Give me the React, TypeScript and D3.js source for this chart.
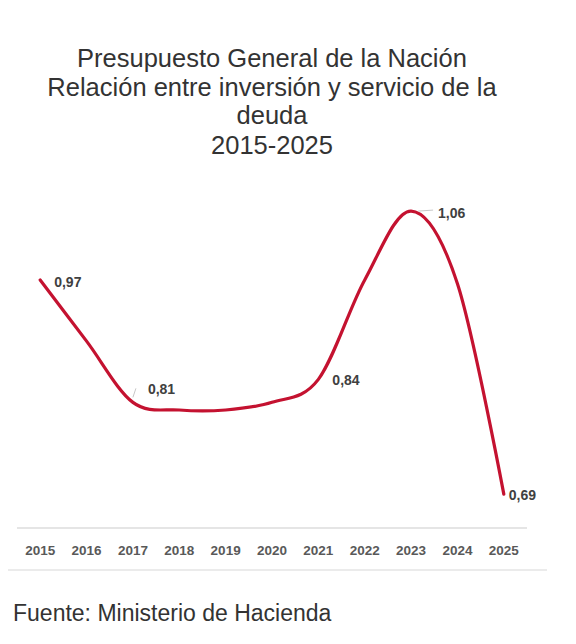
import React from "react";
import * as d3 from "d3";

const years = ["2015","2016","2017","2018","2019","2020","2021","2022","2023","2024","2025"];
const values = [0.97, 0.89, 0.81, 0.80, 0.80, 0.81, 0.84, 0.97, 1.06, 0.965, 0.69];
const labeledYears = ["2015","2017","2021","2023","2025"];
const titleLines = [
  "Presupuesto General de la Nación",
  "Relación entre inversión y servicio de la",
  "deuda",
  "2015-2025",
];
const source = "Fuente: Ministerio de Hacienda";

const W = 576, H = 644;

export default function App() {
  const x = d3.scalePoint<string>().domain(years).range([17, 527]).padding(0.5);
  const y = d3.scaleLinear().domain([0.6, 1.1]).range([563, 180.5]);
  const line = d3
    .line<number>()
    .x((_, i) => x(years[i])!)
    .y((d) => y(d))
    .curve(d3.curveCardinal.tension(0));
  const fmt = (v: number) => v.toFixed(2).replace(".", ",");

  const labelOffsets: Record<string, { dx: number; dy: number; lead?: [number, number, number, number] }> = {
    "2015": { dx: 14, dy: 7 },
    "2017": { dx: 15, dy: -8, lead: [0, -5, 3, -14] },
    "2021": { dx: 14, dy: 6 },
    "2023": { dx: 27, dy: 7, lead: [7, 0, 22, -1] },
    "2025": { dx: 5, dy: 6 },
  };

  return (
    <svg
      width={W}
      height={H}
      style={{ position: "absolute", left: 0, top: 0, background: "#fff" }}
      fontFamily="'Liberation Sans', Arial, sans-serif"
    >
      <rect width={W} height={H} fill="#fff" />
      {titleLines.map((t, i) => (
        <text
          key={i}
          x={272}
          y={67 + i * 28.5 + (i === 3 ? 1 : 0)}
          textAnchor="middle"
          fontSize={25.5}
          fill="#333"
        >
          {t}
        </text>
      ))}
      <line x1={17} x2={527} y1={528} y2={528} stroke="#dcdcdc" strokeWidth={1.5} />
      <line x1={8} x2={547} y1={570} y2={570} stroke="#e4e4e4" strokeWidth={1.5} />
      {years.map((yr) => (
        <text
          key={yr}
          x={x(yr)}
          y={555}
          textAnchor="middle"
          fontSize={13.5}
          fontWeight="bold"
          fill="#595959"
        >
          {yr}
        </text>
      ))}
      <path d={line(values)!} fill="none" stroke="#c41230" strokeWidth={3.2} strokeLinecap="round" />
      {labeledYears.map((yr) => {
        const i = years.indexOf(yr);
        const px = x(yr)!;
        const py = y(values[i]);
        const o = labelOffsets[yr];
        return (
          <g key={yr}>
            {o.lead && (
              <line
                x1={px + o.lead[0]}
                y1={py + o.lead[1]}
                x2={px + o.lead[2]}
                y2={py + o.lead[3]}
                stroke="#c8c8c8"
                strokeWidth={1}
              />
            )}
            <text x={px + o.dx} y={py + o.dy} fontSize={14} fontWeight="bold" fill="#404040">
              {fmt(values[i])}
            </text>
          </g>
        );
      })}
      <text x={13} y={621} fontSize={23} fill="#333">
        {source}
      </text>
    </svg>
  );
}
